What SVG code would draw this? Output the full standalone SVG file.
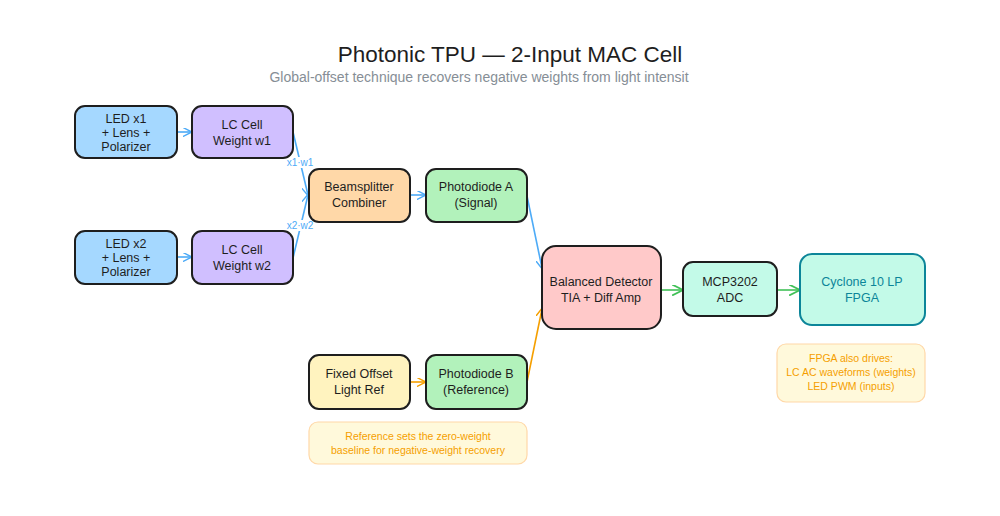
<svg xmlns="http://www.w3.org/2000/svg" width="1000" height="516" viewBox="0 0 1000 516">
<style>
.n{stroke:#1e1e1e;stroke-width:2;}
.t{font-family:"Liberation Sans","Noto Sans",sans-serif;font-size:12.5px;fill:#1e1e1e;text-anchor:middle;}
.lbl{font-family:"Liberation Sans","Noto Sans",sans-serif;font-size:10px;fill:#4dabf7;text-anchor:middle;}
.cb{stroke:#4dabf7;stroke-width:1.6;fill:none;}
.co{stroke:#f59f00;stroke-width:1.6;fill:none;}
.cg{stroke:#40c057;stroke-width:1.6;fill:none;}
.note{font-family:"Liberation Sans","Noto Sans",sans-serif;font-size:10.5px;fill:#f59f00;text-anchor:middle;}
</style>
<defs>
<marker id="ab" viewBox="0 0 10 10" refX="9" refY="5" markerWidth="9" markerHeight="9" orient="auto" markerUnits="userSpaceOnUse"><path d="M0,0 L10,5 L0,10" fill="none" stroke="#4dabf7" stroke-width="1.6"/></marker>
<marker id="ao" viewBox="0 0 10 10" refX="9" refY="5" markerWidth="9" markerHeight="9" orient="auto" markerUnits="userSpaceOnUse"><path d="M0,0 L10,5 L0,10" fill="none" stroke="#f59f00" stroke-width="1.6"/></marker>
<marker id="ag" viewBox="0 0 10 10" refX="9" refY="5" markerWidth="11" markerHeight="11" orient="auto" markerUnits="userSpaceOnUse"><path d="M0,0 L10,5 L0,10" fill="none" stroke="#40c057" stroke-width="1.6"/></marker>
</defs>
<rect width="1000" height="516" fill="#ffffff"/>
<g id="title">
<text x="510" y="62" style="font-family:'Liberation Sans','Noto Sans',sans-serif;font-size:22.5px;fill:#1e1e1e;text-anchor:middle;">Photonic TPU — 2-Input MAC Cell</text>
<text x="479" y="82" style="font-family:'Liberation Sans','Noto Sans',sans-serif;font-size:14px;fill:#868e96;text-anchor:middle;">Global-offset technique recovers negative weights from light intensit</text>
</g>
<g id="connectors">
<line class="cb" x1="177" y1="132" x2="191" y2="132" marker-end="url(#ab)"/>
<line class="cb" x1="177" y1="257" x2="191" y2="257" marker-end="url(#ab)"/>
<line class="cb" x1="293" y1="132" x2="308" y2="195" marker-end="url(#ab)"/>
<line class="cb" x1="293" y1="258" x2="308" y2="195" marker-end="url(#ab)"/>
<rect x="285" y="157" width="30" height="11" fill="#ffffff"/>
<text class="lbl" x="300" y="166">x1·w1</text>
<rect x="285" y="220" width="30" height="11" fill="#ffffff"/>
<text class="lbl" x="300" y="229">x2·w2</text>
<line class="cb" x1="410" y1="195" x2="425" y2="195" marker-end="url(#ab)"/>
<line class="cb" x1="527" y1="196" x2="542" y2="268" marker-end="url(#ab)"/>
<line class="co" x1="410" y1="382" x2="425" y2="382" marker-end="url(#ao)"/>
<line class="co" x1="527" y1="382" x2="542" y2="309" marker-end="url(#ao)"/>
<line class="cg" x1="661" y1="290" x2="682" y2="290" marker-end="url(#ag)"/>
<line class="cg" x1="777" y1="290" x2="799" y2="290" marker-end="url(#ag)"/>
</g>
<g id="led1"><rect class="n" x="75" y="106" width="102" height="52" rx="10" fill="#a5d8ff"/>
<text class="t" x="126" y="123">LED x1</text><text class="t" x="126" y="137">+ Lens +</text><text class="t" x="126" y="151">Polarizer</text></g>
<g id="lc1"><rect class="n" x="192" y="106" width="101" height="52" rx="10" fill="#d0bfff"/>
<text class="t" x="242" y="129">LC Cell</text><text class="t" x="242" y="145">Weight w1</text></g>
<g id="led2"><rect class="n" x="75" y="231" width="102" height="53" rx="10" fill="#a5d8ff"/>
<text class="t" x="126" y="248">LED x2</text><text class="t" x="126" y="262">+ Lens +</text><text class="t" x="126" y="276">Polarizer</text></g>
<g id="lc2"><rect class="n" x="192" y="231" width="101" height="53" rx="10" fill="#d0bfff"/>
<text class="t" x="242" y="254">LC Cell</text><text class="t" x="242" y="270">Weight w2</text></g>
<g id="bs"><rect class="n" x="309" y="169" width="101" height="53" rx="10" fill="#ffd8a8"/>
<text class="t" x="359" y="191">Beamsplitter</text><text class="t" x="359" y="207">Combiner</text></g>
<g id="pda"><rect class="n" x="426" y="169" width="101" height="53" rx="10" fill="#b2f2bb"/>
<text class="t" x="476" y="191">Photodiode A</text><text class="t" x="476" y="207">(Signal)</text></g>
<g id="bd"><rect class="n" x="542" y="246" width="119" height="83" rx="14" fill="#ffc9c9"/>
<text class="t" x="601" y="286">Balanced Detector</text><text class="t" x="601" y="302">TIA + Diff Amp</text></g>
<g id="adc"><rect class="n" x="683" y="262" width="94" height="54" rx="10" fill="#c3fae8"/>
<text class="t" x="730" y="286">MCP3202</text><text class="t" x="730" y="302">ADC</text></g>
<g id="fpga"><rect x="800" y="254" width="125" height="71" rx="12" fill="#c3fae8" stroke="#0c8599" stroke-width="2"/>
<text class="t" x="862" y="286" style="fill:#0c8599">Cyclone 10 LP</text><text class="t" x="862" y="302" style="fill:#0c8599">FPGA</text></g>
<g id="fixed"><rect class="n" x="309" y="355" width="101" height="54" rx="10" fill="#fff3bf"/>
<text class="t" x="359" y="378">Fixed Offset</text><text class="t" x="359" y="394">Light Ref</text></g>
<g id="pdb"><rect class="n" x="426" y="355" width="101" height="54" rx="10" fill="#b2f2bb"/>
<text class="t" x="476" y="378">Photodiode B</text><text class="t" x="476" y="394">(Reference)</text></g>
<g id="note1"><rect x="309" y="422" width="218" height="42" rx="9" fill="#fff9db" stroke="#ffd8a8" stroke-width="1.2"/>
<text class="note" x="418" y="440">Reference sets the zero-weight</text><text class="note" x="418" y="454">baseline for negative-weight recovery</text></g>
<g id="note2"><rect x="777" y="344" width="148" height="58" rx="9" fill="#fff9db" stroke="#ffd8a8" stroke-width="1.2"/>
<text class="note" x="851" y="362">FPGA also drives:</text><text class="note" x="851" y="376">LC AC waveforms (weights)</text><text class="note" x="851" y="390">LED PWM (inputs)</text></g>
</svg>
